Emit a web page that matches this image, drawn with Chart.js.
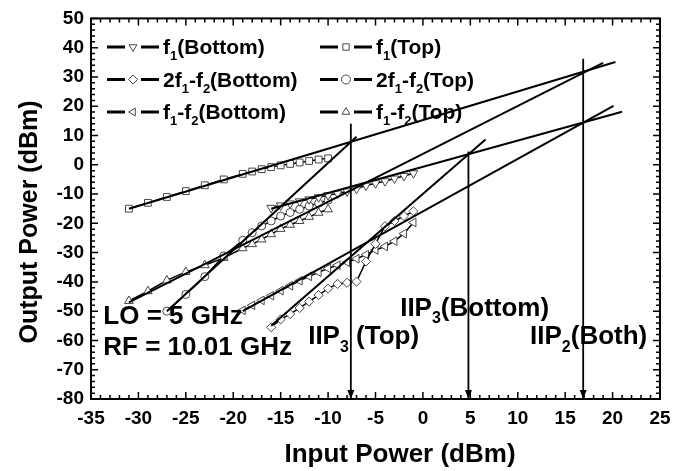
<!DOCTYPE html>
<html>
<head>
<meta charset="utf-8">
<script src="https://cdn.jsdelivr.net/npm/chart.js@4.4.1/dist/chart.umd.min.js"></script>
<style>
  html, body { margin: 0; padding: 0; background: #fff; }
  #wrap { width: 688px; height: 471px; }
</style>
</head>
<body>
<div id="wrap"><canvas id="ipChart" width="688" height="471"></canvas></div>
<script>
/* ===== DATA ===== */
// input power sweeps (dBm)
const inTop      = [-31, -29, -27, -25, -23, -21, -19, -18, -17, -16, -15, -14, -13, -12, -11, -10];
const inIm3Top   = [-27, -25, -23, -21, -19, -18, -17, -16, -15, -14, -13, -12, -11, -10];
const inBottom   = [-16, -15, -14, -13, -12, -11, -10, -9, -8, -7, -6, -5, -4, -3, -2, -1];
const inIm2Bot   = [-19, -18, -17, -16, -15, -14, -13, -12, -11, -10, -9, -8, -7, -6, -5, -4, -3, -2, -1];

// measured output power (dBm)
const f1Top      = [-15, -13, -11, -9, -7, -5, -3.1, -2.3, -1.5, -0.8, -0.2, 0.3, 0.8, 1.3, 1.8, 2.2];
const im2Top     = [-46.5, -43.2, -39.5, -36.6, -34.3, -31.8, -28.5, -27.1, -25.5, -23.7, -21.9, -20.5, -19.2, -17.8, -16.4, -15.2];
const im3Top     = [-50, -44.3, -38.2, -31.1, -25.8, -23.2, -20.9, -19.2, -17.5, -16.3, -15.2, -14.1, -13.1, -12.1];
const f1Bottom   = [-14.7, -13.9, -13.2, -12.5, -11.8, -11.1, -10.4, -9.8, -9.1, -8.2, -7.1, -6.3, -5.6, -4.7, -3.8, -2.9];
const im3Bottom  = [-55.5, -52.8, -51, -48.9, -46.7, -44.5, -42.3, -40.7, -40.3, -39.9, -33, -27, -21, -19.2, -17.5, -15.9];
const im2Bottom  = [-49.7, -48, -46.3, -44.7, -43, -41.3, -39.6, -38.1, -36.7, -35.4, -34.3, -33.3, -32.1, -30.7, -29.1, -27.9, -26.1, -23.5, -19.7];

// extrapolated fits: [x start, x end] / [y start, y end]
const fitF1TopX  = [-31, 20.3],  fitF1TopY  = [-15, 35.1];
const fitIm3TopX = [-27, -7],    fitIm3TopY = [-50, 9.6];
const fitIm2TopX = [-31, 19],    fitIm2TopY = [-47, 34.8];
const fitF1BotX  = [-16, 21],    fitF1BotY  = [-15, 18.1];
const fitIm3BotX = [-16, 6.6],   fitIm3BotY = [-55, 8.6];
const fitIm2BotX = [-19, 20.1],  fitIm2BotY = [-50, 20.1];

// intercept markers
const interceptX   = [-7.6, 4.8, 16.9];
const interceptTop = [14, 4.5, 36.2];

// axis ticks
const xTickMin = -35, xTickMax = 25, xTickStep = 5;
const yTickMin = -80, yTickMax = 50, yTickStep = 10;

/* ===== HELPERS ===== */
const FONT = '"Liberation Sans", Arial, Helvetica, sans-serif';
const pts = (xs, ys) => xs.map((x, i) => ({ x, y: ys[i] }));

function measured(label, xs, ys, style, rotation, radius) {
  return {
    label, data: pts(xs, ys), showLine: true,
    borderColor: "#000", borderWidth: 1.5,
    pointStyle: style, rotation, pointRadius: radius,
    pointBorderColor: "#474747", pointBorderWidth: 1, pointBackgroundColor: "#fff",
    order: 2
  };
}
function straight(xs, ys, w) {
  return {
    data: pts(xs, ys), showLine: true, borderColor: "#000", borderWidth: w,
    pointRadius: 0, order: 1
  };
}

const series = [
  { runs: [["f"], ["1", 1], ["(Bottom)"]],          style: "triangle", rot: 180 },
  { runs: [["2f"], ["1", 1], ["-f"], ["2", 1], ["(Bottom)"]], style: "rectRot", rot: 0 },
  { runs: [["f"], ["1", 1], ["-f"], ["2", 1], ["(Bottom)"]],  style: "triangle", rot: 270 },
  { runs: [["f"], ["1", 1], ["(Top)"]],             style: "rect", rot: 0 },
  { runs: [["2f"], ["1", 1], ["-f"], ["2", 1], ["(Top)"]],    style: "circle", rot: 0 },
  { runs: [["f"], ["1", 1], ["-f"], ["2", 1], ["(Top)"]],     style: "triangle", rot: 0 }
];

// text runs with subscripts, left aligned at (x, y) baseline
function drawRuns(ctx, runs, x, y, size) {
  let cx = x;
  runs.forEach(([t, sub]) => {
    const s = sub ? Math.round(size * 0.62) : size;
    ctx.font = `bold ${s}px ${FONT}`;
    ctx.fillText(t, cx, sub ? y + size * 0.3 : y);
    cx += ctx.measureText(t).width;
  });
}

const notes = [
  { runs: [["LO = 5 GHz"]], x: -33.7, y: -54.5 },
  { runs: [["RF = 10.01 GHz"]], x: -33.7, y: -65 },
  { runs: [["IIP"], ["3", 1], [" (Top)"]], x: -12.1, y: -61.3 },
  { runs: [["IIP"], ["3", 1], ["(Bottom)"]], x: -2.4, y: -51.5 },
  { runs: [["IIP"], ["2", 1], ["(Both)"]], x: 11.3, y: -61.3 }
];

/* ===== FRAME, TICKS, TITLES, LEGEND, NOTES ===== */
const decorations = {
  id: "decorations",
  afterDatasetsDraw(chart) {
    const { ctx, chartArea: a, scales: { x, y } } = chart;
    ctx.save();
    ctx.strokeStyle = "#000";
    ctx.fillStyle = "#000";

    // inward ticks on all four sides
    ctx.lineWidth = 1.5;
    ctx.beginPath();
    for (let v = xTickMin; v <= xTickMax + 1e-6; v += 1) {
      const px = x.getPixelForValue(v);
      const len = Math.abs(v % xTickStep) < 1e-6 ? 7 : 4;
      ctx.moveTo(px, a.bottom); ctx.lineTo(px, a.bottom - len);
      ctx.moveTo(px, a.top); ctx.lineTo(px, a.top + len);
    }
    for (let v = yTickMin; v <= yTickMax + 1e-6; v += 2) {
      const py = y.getPixelForValue(v);
      const len = Math.abs(v % yTickStep) < 1e-6 ? 7 : 4;
      ctx.moveTo(a.left, py); ctx.lineTo(a.left + len, py);
      ctx.moveTo(a.right, py); ctx.lineTo(a.right - len, py);
    }
    ctx.stroke();
    ctx.lineWidth = 2;
    ctx.strokeRect(a.left, a.top, a.right - a.left, a.bottom - a.top);

    // arrow heads where the intercept markers meet the axis
    interceptX.forEach(v => {
      const px = x.getPixelForValue(v), py = a.bottom;
      ctx.beginPath();
      ctx.moveTo(px, py);
      ctx.lineTo(px - 3.5, py - 9);
      ctx.lineTo(px + 3.5, py - 9);
      ctx.closePath();
      ctx.fill();
    });

    // axis titles
    ctx.textAlign = "center";
    ctx.textBaseline = "middle";
    ctx.font = `bold 26px ${FONT}`;
    ctx.fillText("Input Power (dBm)", 400, 455);
    ctx.save();
    ctx.translate(30, 222);
    ctx.rotate(-Math.PI / 2);
    ctx.font = `bold 25px ${FONT}`;
    ctx.fillText("Output Power (dBm)", 0, 0);
    ctx.restore();

    // legend, two columns
    ctx.textAlign = "left";
    ctx.textBaseline = "alphabetic";
    series.forEach((s, i) => {
      const col = Math.floor(i / 3), row = i % 3;
      const x0 = col ? 320 : 107, yc = 47 + row * 32.5;
      ctx.lineWidth = 3;
      ctx.beginPath();
      ctx.moveTo(x0, yc); ctx.lineTo(x0 + 18, yc);
      ctx.moveTo(x0 + 34, yc); ctx.lineTo(x0 + 52, yc);
      ctx.stroke();
      ctx.lineWidth = 1;
      ctx.strokeStyle = "#474747";
      ctx.fillStyle = "#fff";
      Chart.helpers.drawPoint(ctx, { pointStyle: s.style, rotation: s.rot, radius: 4.5, borderWidth: 1 }, x0 + 26, yc);
      ctx.strokeStyle = "#000";
      ctx.fillStyle = "#000";
      drawRuns(ctx, s.runs, x0 + 56, yc + 7, 21);
    });

    // annotations
    notes.forEach(n => drawRuns(ctx, n.runs, x.getPixelForValue(n.x), y.getPixelForValue(n.y), 26));
    ctx.restore();
  }
};

/* ===== CHART ===== */
new Chart(document.getElementById("ipChart"), {
  type: "scatter",
  data: {
    datasets: [
      measured("f1(Bottom)", inBottom, f1Bottom, "triangle", 180, 5),
      measured("2f1-f2(Bottom)", inBottom, im3Bottom, "rectRot", 0, 4.6),
      measured("f1-f2(Bottom)", inIm2Bot, im2Bottom, "triangle", 270, 5),
      measured("f1(Top)", inTop, f1Top, "rect", 0, 4.8),
      measured("2f1-f2(Top)", inIm3Top, im3Top, "circle", 0, 4),
      measured("f1-f2(Top)", inTop, im2Top, "triangle", 0, 5),
      straight(fitF1TopX, fitF1TopY, 2),
      straight(fitIm3TopX, fitIm3TopY, 2),
      straight(fitIm2TopX, fitIm2TopY, 2),
      straight(fitF1BotX, fitF1BotY, 2),
      straight(fitIm3BotX, fitIm3BotY, 2),
      straight(fitIm2BotX, fitIm2BotY, 2),
      ...interceptX.map((v, i) => straight([v, v], [interceptTop[i], yTickMin], 1.8))
    ]
  },
  options: {
    responsive: false,
    animation: false,
    layout: { padding: { left: 0, top: 16, right: 28, bottom: 0 } },
    plugins: { legend: { display: false }, tooltip: { enabled: false } },
    scales: {
      x: {
        type: "linear", min: xTickMin, max: xTickMax,
        grid: { display: false, drawTicks: false }, border: { display: false },
        ticks: { stepSize: xTickStep, padding: 8, color: "#000", font: { family: FONT, size: 19, weight: "bold" } },
        afterFit: s => { s.height = 72; }
      },
      y: {
        type: "linear", min: yTickMin, max: yTickMax,
        grid: { display: false, drawTicks: false }, border: { display: false },
        ticks: { stepSize: yTickStep, padding: 7, color: "#000", font: { family: FONT, size: 19, weight: "bold" } },
        afterFit: s => { s.width = 91; }
      }
    }
  },
  plugins: [decorations]
});
</script>
</body>
</html>
